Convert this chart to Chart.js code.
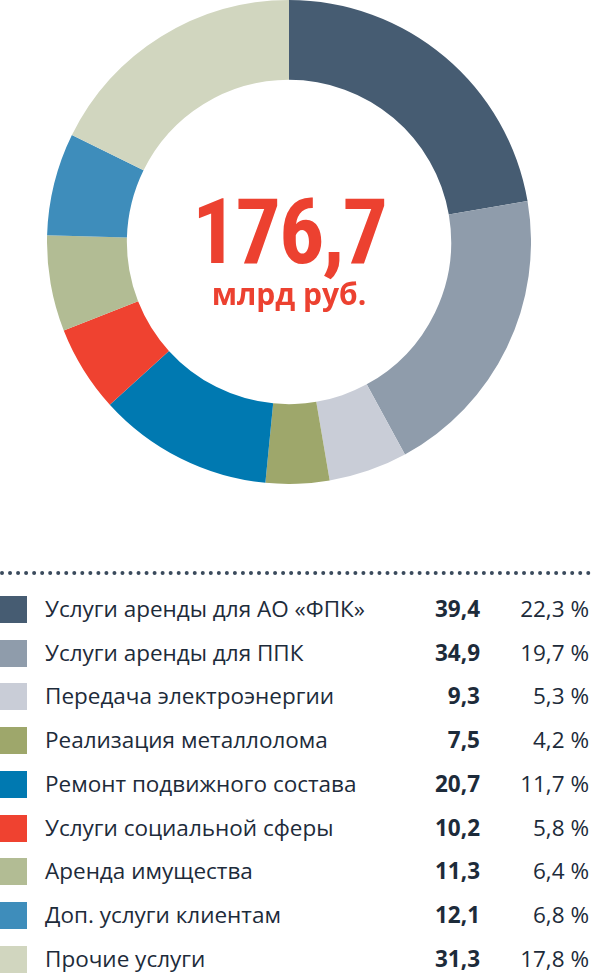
<!DOCTYPE html>
<html><head><meta charset="utf-8">
<script src="https://cdn.jsdelivr.net/npm/chart.js@4"></script>
<style>
body{margin:0;background:#fff;width:591px;height:973px;overflow:hidden;font-family:"Open Sans",sans-serif;position:relative}
#wrap{position:absolute;left:47px;top:0px;width:484px;height:484px}
#center{position:absolute;left:0;top:188px;width:578px;text-align:center;color:#ec4130;pointer-events:none}
#big{font-family:"Liberation Sans Narrow","Roboto Condensed",sans-serif;font-weight:bold;font-size:90px;line-height:90px;letter-spacing:-2px}
#small{font-weight:bold;font-size:30px;line-height:36px;margin-top:-2px}
#dots{position:absolute;left:0;top:571px;width:591px;border-top:4px dotted #3a4a5c}
.row{position:absolute;left:0;width:591px;height:30px}
.sq{position:absolute;left:0;top:2px;width:27px;height:27px}
.lab{position:absolute;left:45px;top:-1px;font-size:22.5px;color:#1d2b3a;white-space:nowrap}
.val{position:absolute;right:111px;top:-1px;font-size:22.5px;font-weight:bold;color:#1d2b3a}
.pct{position:absolute;right:2px;top:-1px;font-size:22.5px;color:#1d2b3a}
</style></head><body>
<div id="wrap"><canvas id="c"></canvas></div>
<div id="center"><div id="big">176,7</div><div id="small">млрд руб.</div></div>
<div id="dots"></div>
<div id="legend"></div>
<script>
const categories=["Услуги аренды для АО «ФПК»","Услуги аренды для ППК","Передача электроэнергии","Реализация металлолома","Ремонт подвижного состава","Услуги социальной сферы","Аренда имущества","Доп. услуги клиентам","Прочие услуги"];
const values=[39.4,34.9,9.3,7.5,20.7,10.2,11.3,12.1,31.3];
const valueLabels=["39,4","34,9","9,3","7,5","20,7","10,2","11,3","12,1","31,3"];
const percentLabels=["22,3 %","19,7 %","5,3 %","4,2 %","11,7 %","5,8 %","6,4 %","6,8 %","17,8 %"];
const colors=["#465c72","#8f9cab","#c9cdd7","#9ea76b","#0079b1","#ef4230","#b2bc94","#3e8dbb","#d1d6bf"];
new Chart(document.getElementById('c'),{type:'doughnut',
data:{labels:categories,datasets:[{data:values,backgroundColor:colors,borderWidth:0}]},
options:{responsive:true,maintainAspectRatio:false,animation:false,cutout:'67%',
plugins:{legend:{display:false},tooltip:{enabled:false}},layout:{padding:0}}});
const lg=document.getElementById('legend');
categories.forEach((c,i)=>{const r=document.createElement('div');r.className='row';r.style.top=(594+i*43.7)+'px';
r.innerHTML=`<div class="sq" style="background:${colors[i]}"></div><div class="lab">${c}</div><div class="val">${valueLabels[i]}</div><div class="pct">${percentLabels[i]}</div>`;lg.appendChild(r);});
</script></body></html>
